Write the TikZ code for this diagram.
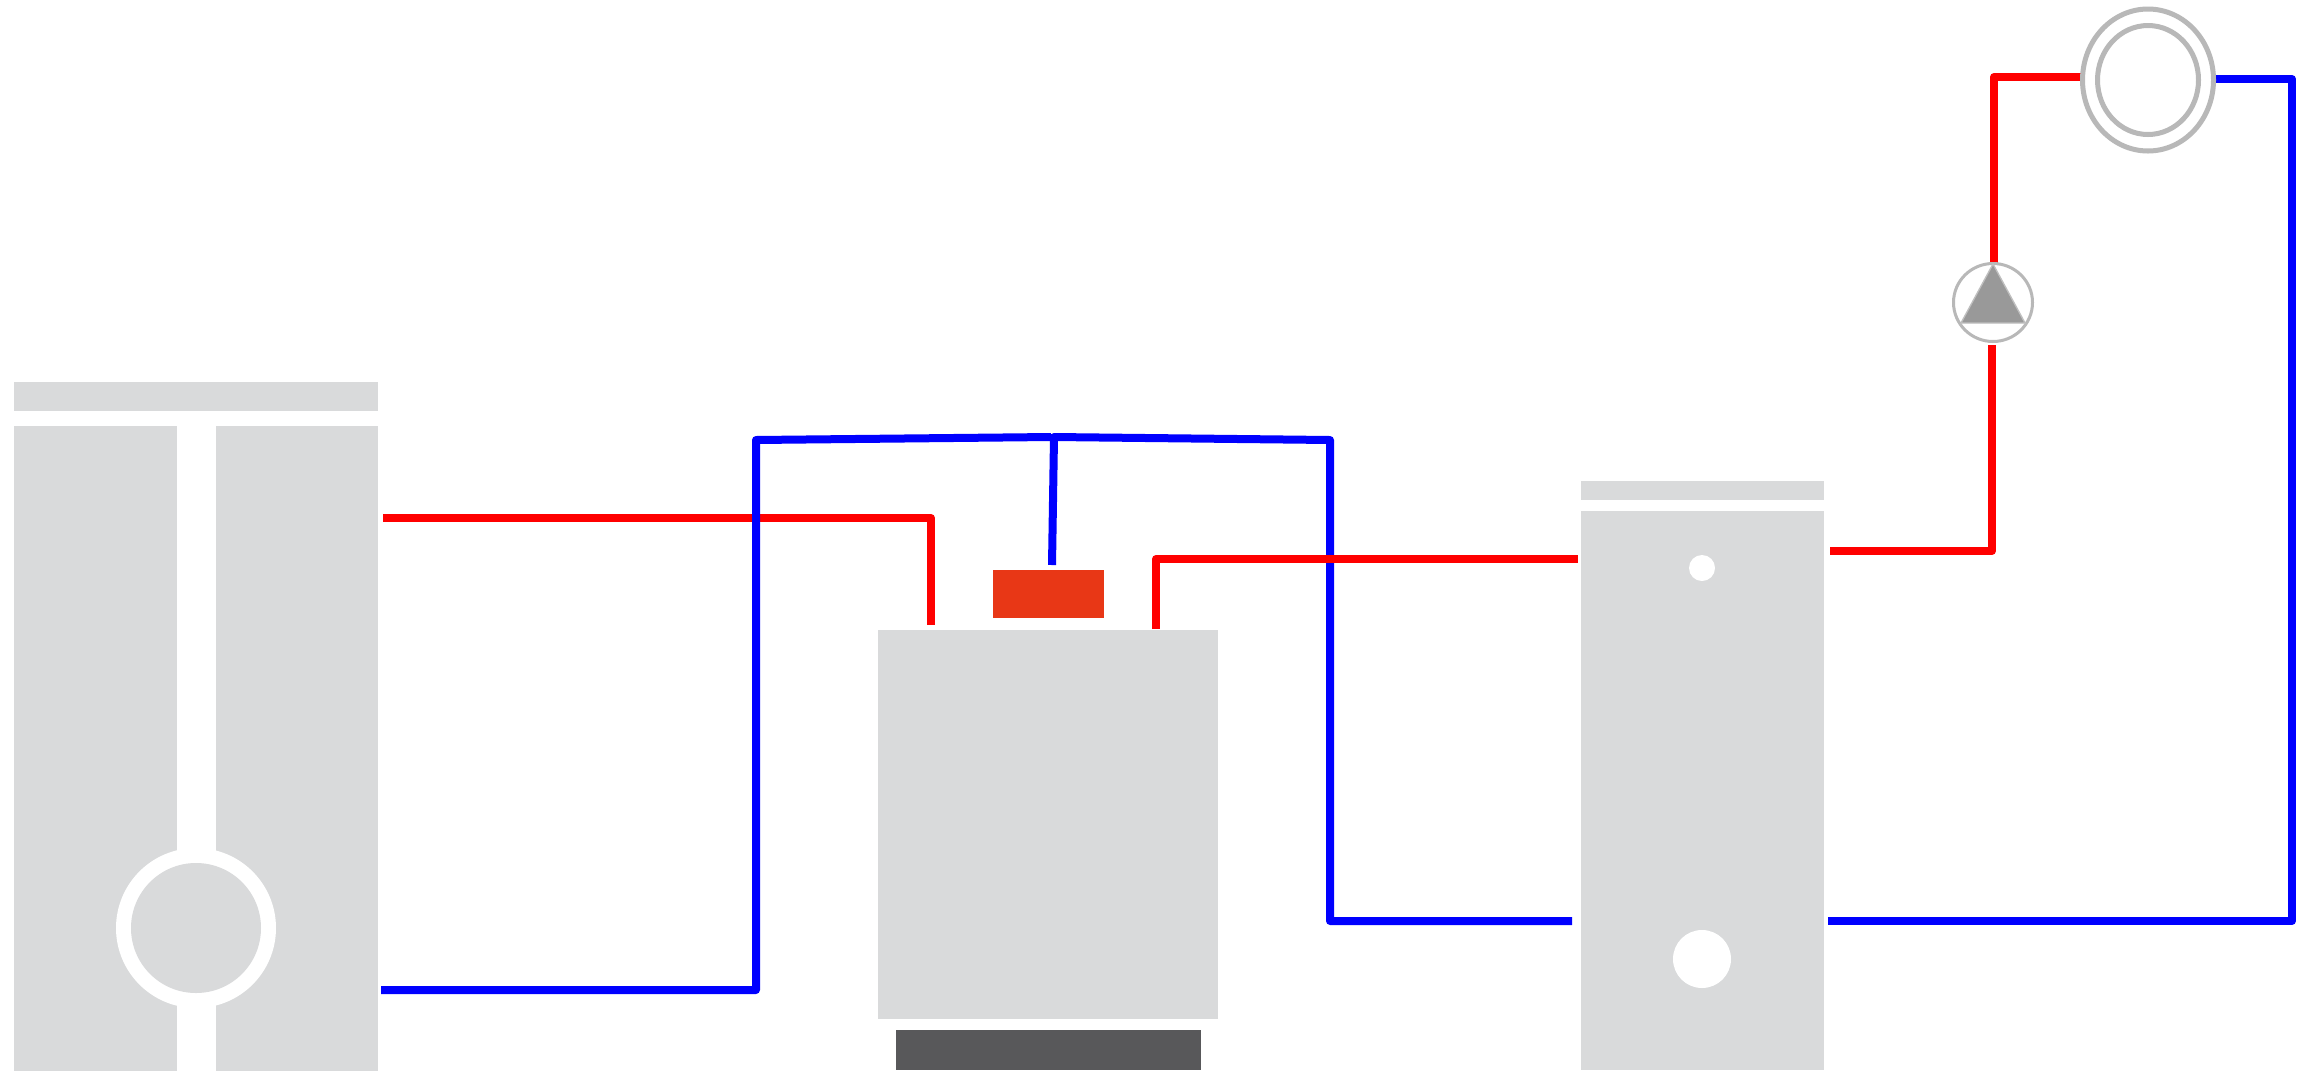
\documentclass[tikz,border=0pt]{standalone}
\usetikzlibrary{shapes.geometric}
\definecolor{unitgrey}{HTML}{D9DADB}
\definecolor{burner}{HTML}{E83716}
\definecolor{basegrey}{HTML}{58585A}
\definecolor{ringgrey}{HTML}{B8B8B8}
\definecolor{trigrey}{HTML}{999999}
\tikzset{
  x=0.75pt,y=-0.75pt,
  box/.style={rectangle,draw=none,inner sep=0pt,outer sep=0pt},
  greybox/.style={box,fill=unitgrey},
  disc/.style={ellipse,inner sep=0pt,outer sep=0pt,draw=none},
  hole/.style={disc,fill=white},
  ring/.style={ellipse,inner sep=0pt,outer sep=0pt,draw=ringgrey,fill=none},
  pipe/.style={line width=6pt,line join=round,line cap=butt},
  hot/.style={pipe,draw=red},
  cold/.style={pipe,draw=blue}
}
\newcommand{\pxbox}[7]{\node[#1,minimum width=#6*0.75pt-#4*0.75pt,minimum height=#7*0.75pt-#5*0.75pt] (#2) at ({(#4+#6)/2},{(#5+#7)/2}) {#3};}
\begin{document}
\begin{tikzpicture}
\path[use as bounding box,fill=white] (0,0) rectangle (2303,1072);
% left store
\pxbox{greybox}{storetop}{}{14}{382}{378}{411}
\pxbox{greybox}{storeleft}{}{14}{426}{177}{1071}
\pxbox{greybox}{storeright}{}{216}{426}{378}{1071}
\node[hole,minimum width=160*0.75pt,minimum height=160*0.75pt] (storering) at (196,928) {};
\node[disc,fill=unitgrey,minimum width=130*0.75pt,minimum height=130*0.75pt] (storedisc) at (196,928) {};
% boiler
\pxbox{box,fill=burner}{burner}{}{993}{570}{1104}{618}
\pxbox{greybox}{boiler}{}{878}{630}{1218}{1019}
\pxbox{box,fill=basegrey}{base}{}{896}{1030}{1201}{1070}
% tank
\pxbox{greybox}{tanktop}{}{1581}{481}{1824}{500}
\pxbox{greybox}{tank}{}{1581}{511}{1824}{1070}
\node[hole,minimum width=26*0.75pt,minimum height=26*0.75pt] (tanksmall) at (1702,568) {};
\node[hole,minimum width=58*0.75pt,minimum height=58*0.75pt] (tankbig) at (1702,959) {};
% pipe ends
\coordinate (a1) at (381,990);
\coordinate (a2) at (756,990);
\coordinate (a3) at (756,440);
\coordinate (a4) at (1051,437);
\coordinate (b1) at (1052,565);
\coordinate (b2) at (1054,437);
\coordinate (b3) at (1330,440);
\coordinate (b4) at (1330,921);
\coordinate (b5) at (1572,921);
\coordinate (c1) at (383,518);
\coordinate (c2) at (931,518);
\coordinate (c3) at (931,625);
\coordinate (d1) at (1156,629);
\coordinate (d2) at (1156,559);
\coordinate (d3) at (1578,559);
\coordinate (e1) at (1830,551);
\coordinate (e2) at (1992,551);
\coordinate (e3) at (1992,345);
\coordinate (f1) at (1994,263);
\coordinate (f2) at (1994,77);
\coordinate (f3) at (2081,77);
\coordinate (g1) at (1828,921);
\coordinate (g2) at (2292,921);
\coordinate (g3) at (2292,79);
\coordinate (g4) at (2215,79);
% pipes
\draw[cold] (b1) -- (b2) -- (b3) -- (b4) -- (b5);
\draw[hot] (d1) -- (d2) -- (d3);
\draw[hot] (c1) -- (c2) -- (c3);
\draw[cold] (a1) -- (a2) -- (a3) -- (a4);
\draw[hot] (e1) -- (e2) -- (e3);
\draw[hot] (f1) -- (f2) -- (f3);
\draw[cold] (g1) -- (g2) -- (g3) -- (g4);
% radiator
\node[ring,line width=3.75pt,minimum width=131*0.75pt,minimum height=142*0.75pt] (radouter) at (2148,80) {};
\node[ring,line width=3.75pt,minimum width=101*0.75pt,minimum height=109*0.75pt] (radinner) at (2148,80) {};
% pump
\node[ring,line width=2.25pt,minimum width=79*0.75pt,minimum height=78*0.75pt] (pump) at (1993,302.5) {};
\draw[draw=ringgrey!90!white,fill=trigrey,line width=1pt,line join=miter] (1993,264) -- (2025,323) -- (1961,323) -- cycle;
\end{tikzpicture}
\end{document}
